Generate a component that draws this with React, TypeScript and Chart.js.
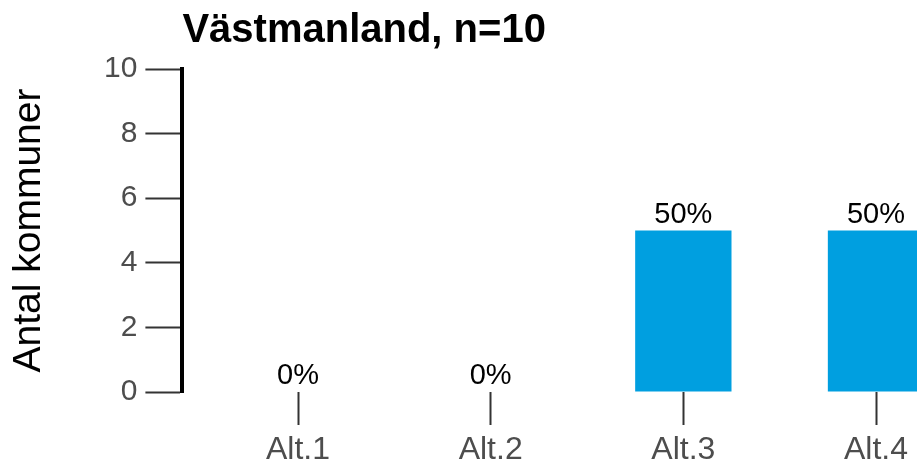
import React, { useEffect, useRef } from "react";
import { Chart, registerables } from "chart.js";

Chart.register(...registerables);

const categories = ["Alt.1", "Alt.2", "Alt.3", "Alt.4"];
const counts = [0, 0, 5, 5];
const total = 10;
const titleText = "Västmanland, n=10";
const yTitle = "Antal kommuner";
const yTicks = [0, 2, 4, 6, 8, 10];

const FONT = "'Liberation Sans', Arial, sans-serif";

const labelPlugin = {
  id: "barLabels",
  afterDatasetsDraw(chart: any) {
    const ctx = chart.ctx;
    const meta = chart.getDatasetMeta(0);
    ctx.save();
    ctx.font = `29px ${FONT}`;
    ctx.fillStyle = "#000000";
    ctx.textAlign = "center";
    ctx.textBaseline = "alphabetic";
    meta.data.forEach((bar: any, i: number) => {
      const pct = Math.round((counts[i] / total) * 100);
      ctx.fillText(`${pct}%`, bar.x, bar.y - 8);
    });
    ctx.restore();
  },
};

export default function App() {
  const ref = useRef<HTMLCanvasElement>(null);
  useEffect(() => {
    if (!ref.current) return;
    const chart = new Chart(ref.current, {
      type: "bar",
      data: {
        datasets: [
          {
            data: counts.map((v, i) => ({ x: i, y: v })),
            backgroundColor: "#009FE0",
            borderWidth: 0,
            barPercentage: 0.5,
            categoryPercentage: 1,
          },
        ],
      },
      options: {
        animation: false,
        responsive: false,
        devicePixelRatio: 1,
        layout: { padding: { left: 0, right: 8.4, top: 0, bottom: 0 } },
        plugins: {
          legend: { display: false },
          tooltip: { enabled: false },
          title: {
            display: true,
            text: titleText,
            align: "start",
            fullSize: false,
            color: "#000000",
            font: { family: FONT, size: 40, weight: "bold", lineHeight: 1.2 },
            padding: { top: 7, bottom: 14 },
          },
        },
        scales: {
          x: {
            type: "linear",
            min: -0.6,
            max: 3.6,
            offset: false,
            afterBuildTicks: (scale: any) => {
              scale.ticks = categories.map((_, i) => ({ value: i }));
            },
            afterFit: (scale: any) => {
              scale.height = 70;
            },
            ticks: {
              color: "#4D4D4D",
              font: { family: FONT, size: 32 },
              padding: 6,
              maxRotation: 0,
              autoSkip: false,
              callback: (v: any) => categories[v] ?? "",
            },
            grid: {
              offset: false,
              drawOnChartArea: false,
              drawTicks: true,
              tickLength: 33,
              tickWidth: 2,
              tickColor: "#333333",
            },
            border: { display: false },
          },
          y: {
            min: 0,
            max: 10,
            afterBuildTicks: (scale: any) => {
              scale.ticks = yTicks.map((v) => ({ value: v }));
            },
            afterFit: (scale: any) => {
              scale.width = 182.4;
            },
            ticks: {
              color: "#4D4D4D",
              font: { family: FONT, size: 30 },
              padding: 8,
            },
            grid: {
              drawOnChartArea: false,
              drawTicks: true,
              tickLength: 37,
              tickWidth: 2,
              tickColor: "#333333",
            },
            border: { display: true, color: "#000000", width: 4 },
            title: {
              display: true,
              text: yTitle,
              color: "#000000",
              font: { family: FONT, size: 39, lineHeight: 1.2 },
              padding: { top: 6, bottom: 0 },
            },
          },
        },
      },
      plugins: [labelPlugin],
    } as any);
    return () => chart.destroy();
  }, []);

  return (
    <div
      style={{
        position: "absolute",
        left: 0,
        top: 0,
        width: 917,
        height: 462,
        overflow: "hidden",
        background: "#ffffff",
      }}
    >
      <canvas ref={ref} width={1000} height={462} style={{ width: 1000, height: 462, display: "block" }} />
    </div>
  );
}
